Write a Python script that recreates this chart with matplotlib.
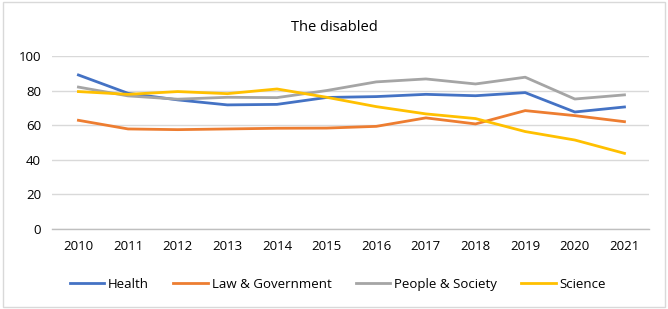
import matplotlib.pyplot as plt
from matplotlib.patches import Rectangle

years = list(range(2010, 2022))
health = [89, 78.4, 74.6, 71.7, 72, 76, 76.5, 77.8, 77, 78.8, 67.6, 70.5]
law_government = [62.8, 57.8, 57.4, 57.8, 58.2, 58.3, 59.3, 64.2, 60.7, 68.4, 65.5, 62]
people_society = [82, 76.9, 75, 76.1, 75.9, 80, 85, 86.7, 83.8, 87.7, 75.1, 77.5]
science = [79.4, 77.8, 79.4, 78.2, 80.9, 76.1, 70.7, 66.5, 63.8, 56.3, 51.4, 43.7]

series = [
    ("Health", health, "#4472C4"),
    ("Law & Government", law_government, "#ED7D31"),
    ("People & Society", people_society, "#A5A5A5"),
    ("Science", science, "#FFC000"),
]

plt.rcParams['font.family'] = ['Open Sans', 'DejaVu Sans']

fig = plt.figure(figsize=(6.68, 3.09), dpi=100)
ax = fig.add_axes([0.078, 0.259, 0.894, 0.560])

for name, values, color in series:
    ax.plot(years, values, color=color, linewidth=2, label=name)

ax.set_xlim(2009.47, 2021.5)
ax.set_ylim(0, 100)
ax.set_yticks(range(0, 101, 20))
ax.set_xticks(years)
ax.tick_params(length=0, labelsize=9.5, pad=8)
ax.yaxis.grid(True, color="#D9D9D9", linewidth=1)
ax.set_axisbelow(True)
for side in ["top", "right", "left"]:
    ax.spines[side].set_visible(False)
ax.spines["bottom"].set_color("#BFBFBF")
ax.spines["bottom"].set_linewidth(1)

fig.text(0.5, 0.91, "The disabled", ha="center", va="center", fontsize=10.5)

fig.legend(loc="center", bbox_to_anchor=(0.506, 0.08), ncol=4, frameon=False,
           fontsize=9.5, handlelength=2.6, handletextpad=0.3, columnspacing=1.85)

fig.patches.append(Rectangle((0.004, 0.006), 0.991, 0.988, transform=fig.transFigure,
                             fill=False, edgecolor="#D9D9D9", linewidth=1))

fig.savefig("out.png", dpi=100)
